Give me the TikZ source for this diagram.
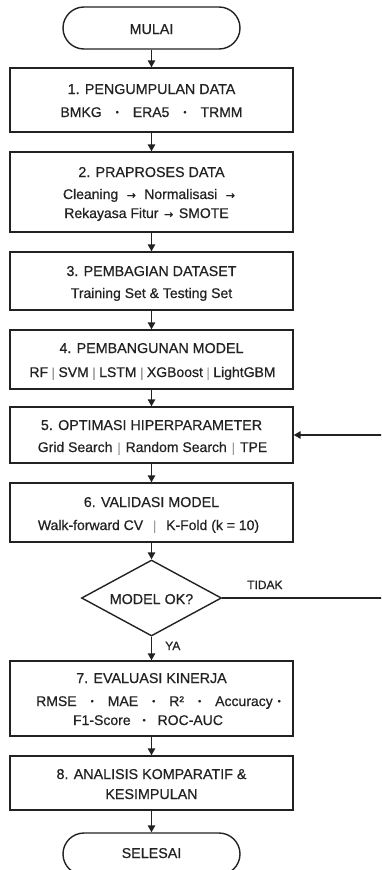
\documentclass[tikz,border=0pt]{standalone}
\usepackage{fontspec}
\setmainfont{Liberation Sans}[FakeBold=0.6]
\newfontfamily\symfont{DejaVu Sans}[FakeBold=0.4]
\usetikzlibrary{arrows.meta,shapes.geometric,shapes.misc}
\definecolor{ink}{HTML}{222222}
\definecolor{barc}{HTML}{9A9A9A}
\newcommand{\sepbar}[1]{\hspace{#1}\textcolor{barc}{\fontsize{13}{13}\selectfont|}\hspace{#1}}
\newcommand{\dotsep}[1]{\hspace{#1}\raisebox{1.8pt}{\fontsize{9}{9}\selectfont •}\hspace{#1}}
\newcommand{\arrsep}[1]{\hspace{#1}{\symfont\fontsize{11}{11}\selectfont →}\hspace{#1}}
\begin{document}
\begin{tikzpicture}[x=1pt,y=-1pt,
  stepbox/.style={draw=ink, line width=1.4pt, rectangle, minimum width=283pt, minimum height=#1, inner sep=0pt},
  termbox/.style={draw=ink, line width=1.4pt, rounded rectangle, minimum width=177pt, minimum height=42pt, inner sep=0pt},
  decbox/.style={draw=ink, line width=1.4pt, diamond, minimum width=140pt, minimum height=76pt, inner sep=0pt},
  ttl/.style={font=\fontsize{14.3}{16}\selectfont, text=ink, anchor=base, inner sep=0pt},
  subt/.style={font=\fontsize{14}{16}\selectfont, text=ink, anchor=base, inner sep=0pt},
  lbl/.style={font=\fontsize{12}{14}\selectfont, text=ink, anchor=base west, inner sep=0pt},
  flow/.style={draw=ink, line width=1.4pt, -{Triangle[length=7pt,width=7.5pt]}}
]
\useasboundingbox (0,0) rectangle (381,870);
\clip (0,0) rectangle (381,870);

% shapes
\node[termbox] (start) at (151.5,28) {};
\node[stepbox=64pt] (b1) at (151.5,100) {};
\node[stepbox=80pt] (b2) at (151.5,192) {};
\node[stepbox=58pt] (b3) at (151.5,281) {};
\node[stepbox=59pt] (b4) at (151.5,359.5) {};
\node[stepbox=56pt] (b5) at (151.5,435) {};
\node[stepbox=59pt] (b6) at (151.5,512.5) {};
\node[decbox] (dec) at (151.5,598) {};
\node[stepbox=75pt] (b7) at (151.5,698.5) {};
\node[stepbox=54pt] (b8) at (151.5,783) {};
\node[termbox] (stop) at (151.5,854) {};

% texts
\node[ttl] (tstart) at (151.5,34) {MULAI};
\node[ttl] (t1a) at (151.5,94) {1. PENGUMPULAN DATA};
\node[subt] (t1b) at (151.5,117) {BMKG\dotsep{1.0em}ERA5\dotsep{1.0em}TRMM};
\node[ttl] (t2a) at (151.5,177) {2. PRAPROSES DATA};
\node[subt] (t2b) at (149,199) {Cleaning\arrsep{0.6em}Normalisasi\arrsep{0.6em}};
\node[subt] (t2c) at (146.5,218) {Rekayasa Fitur\arrsep{0.4em}SMOTE};
\node[ttl] (t3a) at (151.5,276) {3. PEMBAGIAN DATASET};
\node[subt] (t3b) at (151.5,298) {Training Set \& Testing Set};
\node[ttl] (t4a) at (151.5,353) {4. PEMBANGUNAN MODEL};
\node[subt] (t4b) at (152.5,377) {RF\sepbar{0.25em}SVM\sepbar{0.25em}LSTM\sepbar{0.25em}XGBoost\sepbar{0.25em}LightGBM};
\node[ttl] (t5a) at (151.5,430) {5. OPTIMASI HIPERPARAMETER};
\node[subt] (t5b) at (152.5,452) {Grid Search\sepbar{0.35em}Random Search\sepbar{0.35em}TPE};
\node[ttl] (t6a) at (151.5,507) {6. VALIDASI MODEL};
\node[subt] (t6b) at (148.5,530) {Walk-forward CV\sepbar{0.7em}K-Fold (k = 10)};
\node[ttl] (tdec) at (151.5,604) {MODEL OK?};
\node[ttl] (t7a) at (151.5,683) {7. EVALUASI KINERJA};
\node[subt] (t7b) at (158.5,706) {RMSE\dotsep{1.0em}MAE\dotsep{1.0em}R²\dotsep{1.0em}Accuracy\dotsep{0.35em}};
\node[subt] (t7c) at (148,725) {F1-Score\dotsep{0.85em}ROC-AUC};
\node[ttl] (t8a) at (151.5,779) {8. ANALISIS KOMPARATIF \&};
\node[ttl] (t8b) at (151.5,799) {KESIMPULAN};
\node[ttl] (tstop) at (151.5,858) {SELESAI};

% connectors
\draw[flow] (start) -- (b1);
\draw[flow] (b1) -- (b2);
\draw[flow] (b2) -- (b3);
\draw[flow] (b3) -- (b4);
\draw[flow] (b4) -- (b5);
\draw[flow] (b5) -- (b6);
\draw[flow] (b6) -- (dec);
\draw[flow] (dec) -- (b7);
\draw[flow] (b7) -- (b8);
\draw[flow] (b8) -- (stop);

\coordinate (fbr) at (392,435);
\draw[flow] (dec.east) -| (fbr) -- (b5.east);

\node[lbl] (ya) at (165,650) {YA};
\node[lbl] (tidak) at (247,589) {TIDAK};
\end{tikzpicture}
\end{document}
